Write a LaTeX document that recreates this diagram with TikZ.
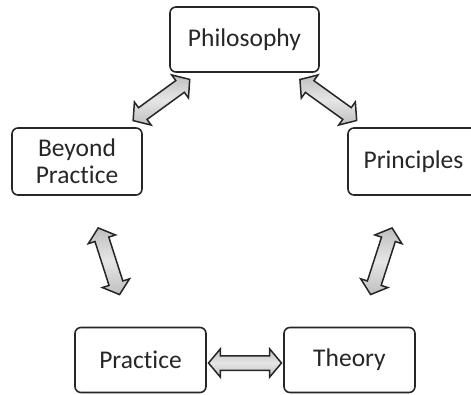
\documentclass[tikz,border=0pt]{standalone}
\usepackage{fontspec}
\setmainfont{Carlito}[Ligatures=NoCommon]
\usetikzlibrary{positioning,shapes.arrows}
\tikzset{%
box/.style={draw=black!85,line width=1.6pt,rounded corners=6pt,minimum height=65pt,minimum width=131pt,align=center,text=black!85,font=\fontsize{25.5}{27}\selectfont},
link/.style={double arrow,draw=black!85,line width=1.5pt,top color=gray!50,bottom color=gray!50,middle color=gray!20,minimum height=70pt,inner xsep=0pt,inner ysep=6.5pt,double arrow head extend=7pt,double arrow tip angle=100,sloped,pos=0.5}
}
\begin{document}
\begin{tikzpicture}[x=1pt,y=-1pt]
    \useasboundingbox (0,0) rectangle (471,394);

    \node[box,minimum width=149pt] (phil) at (244.5,39.5) {Philosophy};
    \node[box,minimum height=67pt,minimum width=130pt] (beyond) at (77,161.5) {Beyond\\Practice};
    \node[box,minimum height=67pt] (princ) at (413.5,161.5) {Principles};
    \node[box] (practice) at (140.5,360) {Practice};
    \node[box] (theory) at (349.5,360) {Theory};

    \path (phil) -- node[link]{} (beyond);
    \path (phil) -- node[link]{} (princ);
    \path (beyond) -- node[link]{} (practice);
    \path (princ) -- node[link]{} (theory);
    \path (practice) -- node[link,minimum height=73pt,yshift=-3pt]{} (theory);
\end{tikzpicture}
\end{document}
